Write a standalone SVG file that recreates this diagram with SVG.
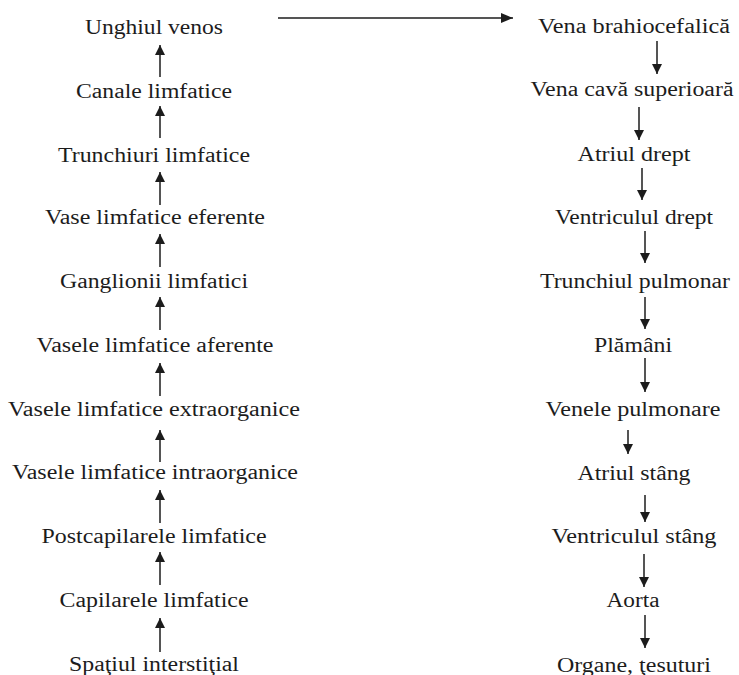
<svg xmlns="http://www.w3.org/2000/svg" width="739" height="675" viewBox="0 0 739 675">
<defs>
<style>
text{font-family:"Liberation Serif","Times New Roman",Tinos,serif;font-size:20.5px;fill:#1c1c1c;text-anchor:middle}
.c line{stroke:#1c1c1c;stroke-width:1.5;fill:none}
</style>
<marker id="ah" viewBox="0 0 10 10" refX="10" refY="5" markerWidth="10" markerHeight="10" markerUnits="userSpaceOnUse" orient="auto">
<path d="M0,0 L10,5 L0,10 Z" fill="#1c1c1c"/>
</marker>
<marker id="ahh" viewBox="0 0 12 10" refX="12" refY="5" markerWidth="12" markerHeight="10" markerUnits="userSpaceOnUse" orient="auto">
<path d="M0,0 L12,5 L0,10 Z" fill="#1c1c1c"/>
</marker>
</defs>
<rect width="739" height="675" fill="#fff"/>
<g id="left-nodes">
<g id="n-l1"><text x="154" y="34" textLength="138" lengthAdjust="spacingAndGlyphs">Unghiul venos</text></g>
<g id="n-l2"><text x="154" y="98" textLength="156" lengthAdjust="spacingAndGlyphs">Canale limfatice</text></g>
<g id="n-l3"><text x="154" y="162" textLength="192" lengthAdjust="spacingAndGlyphs">Trunchiuri limfatice</text></g>
<g id="n-l4"><text x="155" y="224" textLength="220" lengthAdjust="spacingAndGlyphs">Vase limfatice eferente</text></g>
<g id="n-l5"><text x="154" y="288" textLength="188" lengthAdjust="spacingAndGlyphs">Ganglionii limfatici</text></g>
<g id="n-l6"><text x="155" y="352" textLength="237" lengthAdjust="spacingAndGlyphs">Vasele limfatice aferente</text></g>
<g id="n-l7"><text x="154" y="416" textLength="292" lengthAdjust="spacingAndGlyphs">Vasele limfatice extraorganice</text></g>
<g id="n-l8"><text x="155" y="479" textLength="286" lengthAdjust="spacingAndGlyphs">Vasele limfatice intraorganice</text></g>
<g id="n-l9"><text x="154" y="543" textLength="225" lengthAdjust="spacingAndGlyphs">Postcapilarele limfatice</text></g>
<g id="n-l10"><text x="154" y="607" textLength="189" lengthAdjust="spacingAndGlyphs">Capilarele limfatice</text></g>
<g id="n-l11"><text x="154" y="671" textLength="170" lengthAdjust="spacingAndGlyphs">Spaţiul interstiţial</text></g>
</g>
<g id="right-nodes">
<g id="n-r1"><text x="634" y="33" textLength="192" lengthAdjust="spacingAndGlyphs">Vena brahiocefalică</text></g>
<g id="n-r2"><text x="632" y="96" textLength="203" lengthAdjust="spacingAndGlyphs">Vena cavă superioară</text></g>
<g id="n-r3"><text x="634" y="161" textLength="113" lengthAdjust="spacingAndGlyphs">Atriul drept</text></g>
<g id="n-r4"><text x="634" y="224" textLength="158" lengthAdjust="spacingAndGlyphs">Ventriculul drept</text></g>
<g id="n-r5"><text x="635" y="288" textLength="190" lengthAdjust="spacingAndGlyphs">Trunchiul pulmonar</text></g>
<g id="n-r6"><text x="633" y="352" textLength="78" lengthAdjust="spacingAndGlyphs">Plămâni</text></g>
<g id="n-r7"><text x="633" y="416" textLength="175" lengthAdjust="spacingAndGlyphs">Venele pulmonare</text></g>
<g id="n-r8"><text x="634" y="480" textLength="113" lengthAdjust="spacingAndGlyphs">Atriul stâng</text></g>
<g id="n-r9"><text x="634" y="543" textLength="165" lengthAdjust="spacingAndGlyphs">Ventriculul stâng</text></g>
<g id="n-r10"><text x="633" y="607" textLength="53" lengthAdjust="spacingAndGlyphs">Aorta</text></g>
<g id="n-r11"><text x="634" y="672" textLength="154" lengthAdjust="spacingAndGlyphs">Organe, ţesuturi</text></g>
</g>
<g id="connectors" class="c">
<line x1="278" y1="18" x2="513" y2="18" marker-end="url(#ahh)"/>
<line x1="160" y1="77" x2="160" y2="45" marker-end="url(#ah)"/>
<line x1="160" y1="138" x2="160" y2="106" marker-end="url(#ah)"/>
<line x1="160" y1="205" x2="160" y2="172" marker-end="url(#ah)"/>
<line x1="160" y1="267" x2="160" y2="234" marker-end="url(#ah)"/>
<line x1="160" y1="330" x2="160" y2="297" marker-end="url(#ah)"/>
<line x1="160" y1="396" x2="160" y2="363" marker-end="url(#ah)"/>
<line x1="160" y1="462" x2="160" y2="430" marker-end="url(#ah)"/>
<line x1="160" y1="523" x2="160" y2="490" marker-end="url(#ah)"/>
<line x1="160" y1="585" x2="160" y2="552" marker-end="url(#ah)"/>
<line x1="160" y1="652" x2="160" y2="618" marker-end="url(#ah)"/>
<line x1="657" y1="41" x2="657" y2="74" marker-end="url(#ah)"/>
<line x1="639" y1="107" x2="639" y2="140" marker-end="url(#ah)"/>
<line x1="642" y1="168" x2="642" y2="200" marker-end="url(#ah)"/>
<line x1="645" y1="231" x2="645" y2="263" marker-end="url(#ah)"/>
<line x1="645" y1="297" x2="645" y2="329" marker-end="url(#ah)"/>
<line x1="645" y1="358" x2="645" y2="392" marker-end="url(#ah)"/>
<line x1="628" y1="430" x2="628" y2="454" marker-end="url(#ah)"/>
<line x1="645" y1="495" x2="645" y2="522" marker-end="url(#ah)"/>
<line x1="644" y1="554" x2="644" y2="587" marker-end="url(#ah)"/>
<line x1="645" y1="615" x2="645" y2="648" marker-end="url(#ah)"/>
</g>
</svg>
